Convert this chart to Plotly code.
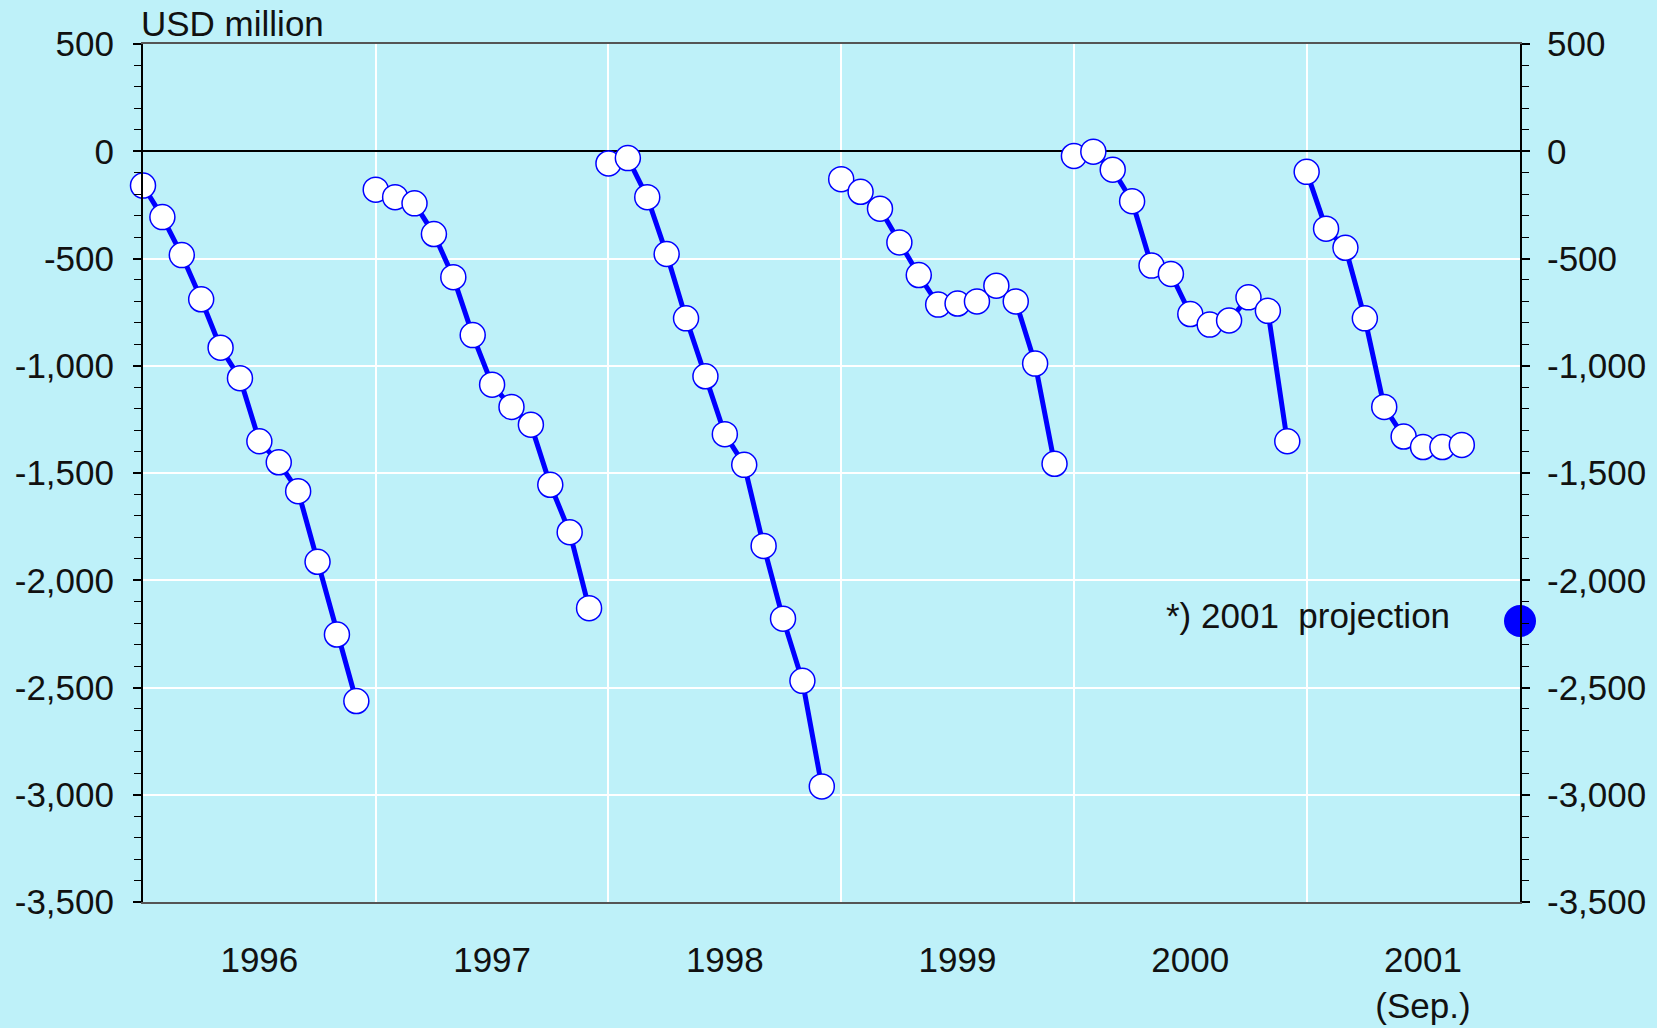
import plotly.graph_objects as go

# cumulative monthly balance, USD million (Jan..Dec of each year)
years = ['1996', '1997', '1998', '1999', '2000', '2001']
bal_1996 = [-160, -307, -484, -690, -916, -1058, -1352, -1450, -1585, -1914, -2253, -2563]
bal_1997 = [-179, -214, -243, -386, -587, -857, -1088, -1192, -1275, -1555, -1776, -2130]
bal_1998 = [-57, -32, -214, -479, -779, -1049, -1319, -1462, -1840, -2179, -2469, -2961]
bal_1999 = [-130, -189, -268, -425, -577, -715, -710, -700, -627, -700, -990, -1457]
bal_2000 = [-22, -2, -86, -233, -533, -572, -759, -808, -789, -681, -744, -1352]
bal_2001 = [-96, -361, -450, -779, -1192, -1330, -1379, -1379, -1369]  # up to Sep.
projection_2001 = -2190

year_labels = ['1996', '1997', '1998', '1999', '2000', '2001<br>(Sep.)']
y_ticks = [500, 0, -500, -1000, -1500, -2000, -2500, -3000, -3500]
y_tick_text = ['500', '0', '-500', '-1,000', '-1,500', '-2,000', '-2,500', '-3,000', '-3,500']

series = [bal_1996, bal_1997, bal_1998, bal_1999, bal_2000, bal_2001]

bg = '#BEF1F9'
blue = '#0000FF'
font = 'Liberation Sans, Arial, sans-serif'

fig = go.Figure()

for k, vals in enumerate(series):
    fig.add_trace(go.Scatter(
        x=[12 * k + i for i in range(len(vals))], y=vals,
        mode='lines+markers',
        line=dict(color=blue, width=5),
        marker=dict(size=25, color='white', line=dict(color=blue, width=1.5)),
        cliponaxis=False, showlegend=False, name=years[k]))

# projection for Dec 2001
fig.add_trace(go.Scatter(
    x=[12 * 5 + 11], y=[projection_2001], mode='markers',
    marker=dict(size=32, color=blue), cliponaxis=False, showlegend=False))

# invisible trace to carry the right axis
fig.add_trace(go.Scatter(x=[0], y=[0], yaxis='y2', mode='markers',
                         marker=dict(opacity=0), hoverinfo='skip', showlegend=False))

fig.update_layout(
    width=1657, height=1028,
    margin=dict(l=143, r=137, t=44, b=126),
    paper_bgcolor=bg, plot_bgcolor=bg,
    font=dict(family=font, size=35, color='#111111'),
    xaxis=dict(
        range=[0, 71], tickmode='array',
        tickvals=[12 * k + 6 for k in range(6)], ticktext=year_labels,
        showgrid=False, zeroline=False, ticks='', automargin=False,
        ticklabelstandoff=26,
        showline=True, mirror=True, linecolor='#555555', linewidth=2,
        minor=dict(tickmode='array', tickvals=[12, 24, 36, 48, 60],
                   showgrid=True, gridcolor='white', gridwidth=2, ticks=''),
    ),
    yaxis=dict(
        range=[-3500, 500], tickmode='array', tickvals=y_ticks, ticktext=y_tick_text,
        showgrid=True, gridcolor='white', gridwidth=2, automargin=False,
        zeroline=True, zerolinecolor='black', zerolinewidth=1.5,
        showline=True, linecolor='black', linewidth=2,
        ticks='outside', ticklen=8, tickcolor='black', tickwidth=1.5,
        ticklabelstandoff=12,
        minor=dict(dtick=100, ticks='outside', ticklen=7, tickcolor='black',
                   tickwidth=1.2, showgrid=False),
    ),
    yaxis2=dict(
        range=[-3500, 500], overlaying='y', side='right', automargin=False,
        tickmode='array', tickvals=y_ticks, ticktext=y_tick_text,
        showgrid=False, zeroline=False,
        showline=True, linecolor='black', linewidth=2,
        ticks='outside', ticklen=8, tickcolor='black', tickwidth=1.5,
        ticklabelstandoff=10,
        minor=dict(dtick=100, ticks='outside', ticklen=7, tickcolor='black',
                   tickwidth=1.2, showgrid=False),
    ),
    annotations=[
        dict(text='USD million', xref='paper', yref='paper', x=0, y=1,
             xanchor='left', yanchor='bottom', showarrow=False, xshift=-4, yshift=-1),
        dict(text='*) 2001  projection', xref='x', yref='y', x=71, y=-2165,
             xanchor='right', yanchor='middle', showarrow=False, xshift=-68),
    ],
)

fig.write_html("out.html", config={'displayModeBar': False},
               post_script="document.body.style.margin='0';"
                           "document.body.style.background='#BEF1F9';"
                           "document.body.style.overflow='hidden';")
